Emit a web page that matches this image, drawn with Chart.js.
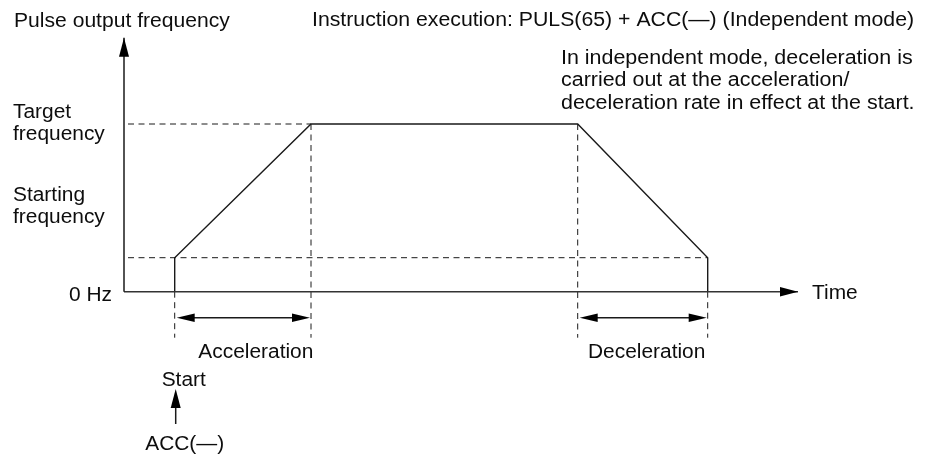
<!DOCTYPE html>
<html>
<head>
<meta charset="utf-8">
<script src="https://cdn.jsdelivr.net/npm/chart.js@4/dist/chart.umd.min.js"></script>
<style>
  html, body { margin: 0; padding: 0; background: #fff; }
  #wrap { width: 927px; height: 454px; }
</style>
</head>
<body>
<div id="wrap"><canvas id="c" width="927" height="454"></canvas></div>
<script>
// ---- data (arbitrary units: time and frequency) ----
const profileTimes = [5.07, 5.07, 18.7, 45.37, 58.37, 58.37];
const profileFreqs = [0, 3.4, 16.77, 16.77, 3.4, 0];
const startingFrequency = 3.4;
const targetFrequency = 16.77;
const startTime = 5.07;
const accelEndTime = 18.7;
const decelStartTime = 45.37;
const stopTime = 58.37;
const freqTickLabels = [['0 Hz'], ['Starting', 'frequency'], ['Target', 'frequency']];
const phaseLabels = ['Acceleration', 'Deceleration'];
const axisTitles = ['Pulse output frequency', 'Time'];
const headerText = 'Instruction execution: PULS(65) + ACC(\u2014) (Independent mode)';
const noteLines = ['In independent mode, deceleration is', 'carried out at the acceleration/', 'deceleration rate in effect at the start.'];
const triggerLabels = ['Start', 'ACC(\u2014)'];

// ---- axis extents ----
const X_MIN = -12.4, X_MAX = 80.3;
const Y_MIN = -16.23, Y_MAX = 29.17;
const X_AXIS_END = 67.4, Y_AXIS_END = 25.4;
const GUIDE_LOW = -4.6, DIM_LEVEL = -2.6, GUIDE_LEFT = 0.4;

const INK = '#1a1a1a';
const DASH = [6, 4.5];
const FONT = '20px "Liberation Sans", Arial, sans-serif';
const HS = 1.045;

function seg(x1, y1, x2, y2) { return [{x: x1, y: y1}, {x: x2, y: y2}]; }
function lineDs(data, width, dash, color) {
  return { data, showLine: true, borderColor: color || INK, borderWidth: width,
    borderDash: dash || [], pointRadius: 0, fill: false, tension: 0 };
}

const datasets = [
  // axes
  lineDs(seg(0, 0, 0, Y_AXIS_END), 1.5),
  lineDs(seg(0, 0, X_AXIS_END, 0), 1.5, null, '#333'),
  // guides (dashed)
  lineDs(seg(GUIDE_LEFT, targetFrequency, accelEndTime, targetFrequency), 1, DASH),
  lineDs(seg(GUIDE_LEFT, startingFrequency, stopTime, startingFrequency), 1, DASH),
  lineDs(seg(startTime, 0, startTime, GUIDE_LOW), 1, DASH),
  lineDs(seg(accelEndTime, targetFrequency, accelEndTime, GUIDE_LOW), 1, DASH),
  lineDs(seg(decelStartTime, targetFrequency, decelStartTime, GUIDE_LOW), 1, DASH),
  lineDs(seg(stopTime, 0, stopTime, GUIDE_LOW), 1, DASH),
  // profile
  lineDs(profileTimes.map((t, i) => ({x: t, y: profileFreqs[i]})), 1.4),
];

function arrowHead(ctx, tx, ty, dx, dy, len, half) {
  const nx = -dy, ny = dx;
  ctx.beginPath();
  ctx.moveTo(tx, ty);
  ctx.lineTo(tx - dx * len + nx * half, ty - dy * len + ny * half);
  ctx.lineTo(tx - dx * len - nx * half, ty - dy * len - ny * half);
  ctx.closePath();
  ctx.fill();
}
function txt(ctx, s, x, y, align, hs) {
  const k = hs || HS;
  const w = ctx.measureText(s).width * k;
  let left = x;
  if (align === 'center') left = x - w / 2;
  else if (align === 'right') left = x - w;
  ctx.save();
  ctx.translate(left, y);
  ctx.scale(k, 1);
  ctx.fillText(s, 0, 0);
  ctx.restore();
}

const decor = {
  id: 'decor',
  beforeDraw(chart) {
    const ctx = chart.ctx;
    ctx.save(); ctx.fillStyle = '#fff'; ctx.fillRect(0, 0, chart.width, chart.height); ctx.restore();
  },
  afterDatasetsDraw(chart) {
    const ctx = chart.ctx;
    const xs = chart.scales.x, ys = chart.scales.y;
    const px = v => xs.getPixelForValue(v), py = v => ys.getPixelForValue(v);
    ctx.save();
    ctx.fillStyle = '#000';
    ctx.strokeStyle = INK;
    // axis arrowheads
    arrowHead(ctx, px(0), py(Y_AXIS_END), 0, -1, 19, 5);
    arrowHead(ctx, px(X_AXIS_END), py(0), 1, 0, 18, 4.7);
    // dimension arrows
    const dimY = py(DIM_LEVEL);
    [[startTime, accelEndTime], [decelStartTime, stopTime]].forEach(([a, b]) => {
      const xa = px(a) + 2, xb = px(b) - 1;
      ctx.lineWidth = 1.5;
      ctx.beginPath(); ctx.moveTo(xa + 10, dimY); ctx.lineTo(xb - 10, dimY); ctx.stroke();
      arrowHead(ctx, xa, dimY, -1, 0, 18, 4.2);
      arrowHead(ctx, xb, dimY, 1, 0, 18, 4.2);
    });
    // trigger arrow under Start
    const sx = px(startTime) + 1;
    ctx.lineWidth = 1.5;
    ctx.beginPath(); ctx.moveTo(sx, 424); ctx.lineTo(sx, 400); ctx.stroke();
    arrowHead(ctx, sx, 389, 0, -1, 19, 5);

    // texts
    ctx.font = FONT;
    ctx.fillStyle = '#0d0d0d';
    ctx.textBaseline = 'alphabetic';
    txt(ctx, axisTitles[0], 14, 27, 'left', 1.055);
    txt(ctx, headerText, 312, 26, 'left', 1.063);
    noteLines.forEach((l, i) => txt(ctx, l, 561, 64 + i * 22.3, 'left', 1.072));
    txt(ctx, axisTitles[1], px(X_AXIS_END) + 14, py(0) + 7.5, 'left');
    // frequency labels
    txt(ctx, freqTickLabels[0][0], px(0) - 12, py(0) + 9, 'right');
    freqTickLabels[1].forEach((l, i) => txt(ctx, l, 13, py(startingFrequency) - 56.5 + i * 21.5, 'left'));
    freqTickLabels[2].forEach((l, i) => txt(ctx, l, 13, py(targetFrequency) - 6.5 + i * 22.5, 'left'));
    // phase labels
    txt(ctx, phaseLabels[0], (px(startTime) + px(accelEndTime)) / 2 + 13, 358, 'center');
    txt(ctx, phaseLabels[1], (px(decelStartTime) + px(stopTime)) / 2 + 4, 358, 'center');
    // trigger labels
    txt(ctx, triggerLabels[0], sx + 8, 386, 'center');
    txt(ctx, triggerLabels[1], sx + 9, 450, 'center');
    ctx.restore();
  }
};

new Chart(document.getElementById('c'), {
  type: 'scatter',
  data: { datasets },
  options: {
    responsive: false,
    devicePixelRatio: 1,
    animation: false,
    layout: { padding: 0 },
    plugins: { legend: { display: false }, tooltip: { enabled: false } },
    scales: {
      x: { type: 'linear', min: X_MIN, max: X_MAX, display: false },
      y: { type: 'linear', min: Y_MIN, max: Y_MAX, display: false }
    }
  },
  plugins: [decor]
});
</script>
</body>
</html>
